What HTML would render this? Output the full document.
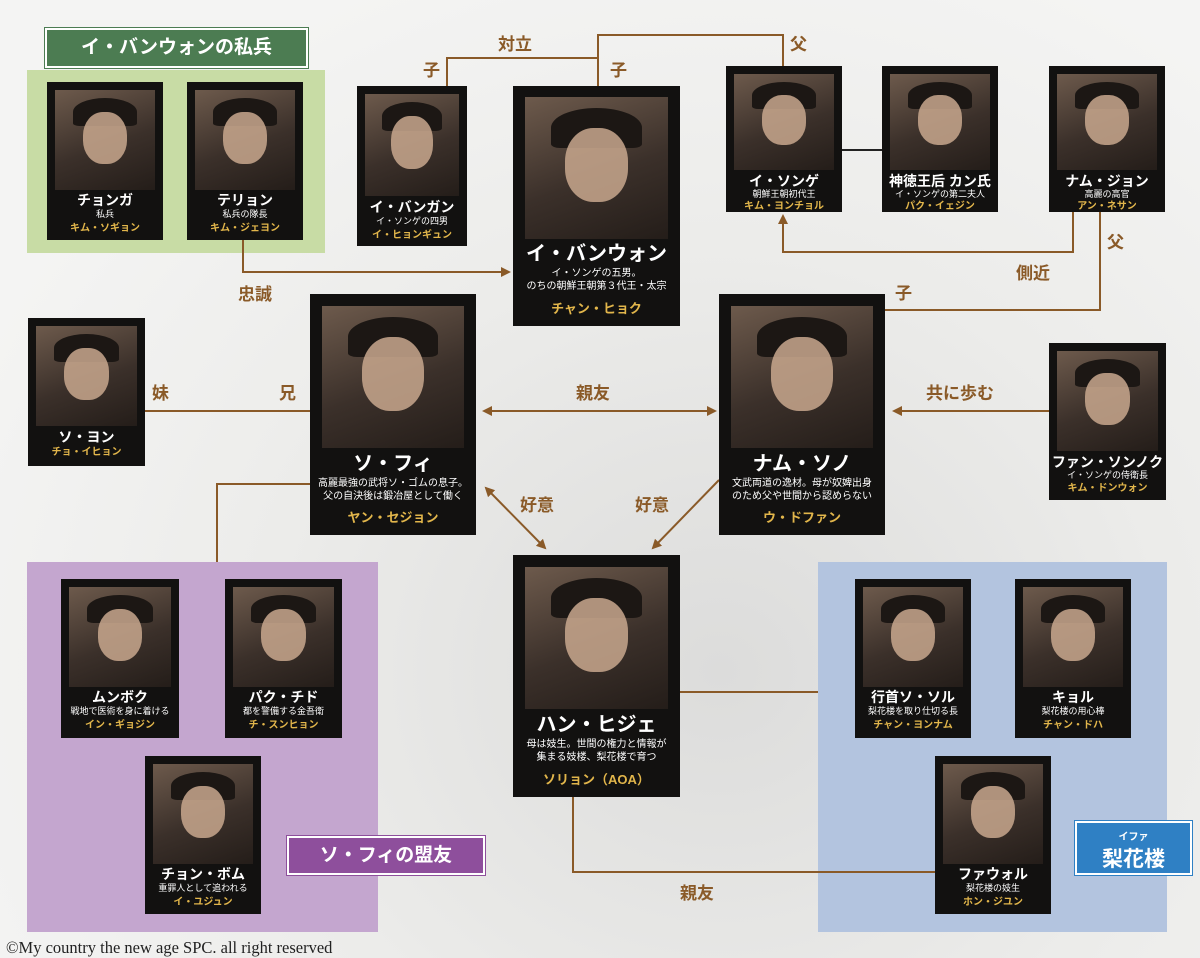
<!DOCTYPE html>
<html><head><meta charset="utf-8">
<style>
*{margin:0;padding:0;box-sizing:border-box}
body{width:1200px;height:958px;position:relative;overflow:hidden;background:#efefed;font-family:"Liberation Sans","Noto Sans CJK JP",sans-serif}
.bg{position:absolute;left:0;top:0;width:1200px;height:958px;background:radial-gradient(ellipse at 60% 70%,#dcdcdb 0%,#ececea 45%,#f4f4f3 80%)}
.panel{position:absolute}
.card{position:absolute;background:#121110;color:#fff;text-align:center}
.card .ph{position:absolute;background:linear-gradient(160deg,#6d5a4c 0%,#3b302a 55%,#241d19 100%)}
.card .ph i{position:absolute;left:28%;top:22%;width:44%;height:52%;border-radius:45%;background:#c9a88e;opacity:.85}
.card .ph b{position:absolute;left:18%;top:8%;width:64%;height:28%;border-radius:50% 50% 10% 10%;background:#1c1714}
.card .n{position:absolute;left:0;right:0;font-weight:bold;line-height:1}
.card .d{position:absolute;left:0;right:0;line-height:1.3}
.card .a{position:absolute;left:0;right:0;color:#e2b64b;font-weight:bold;line-height:1}
.lbl{position:absolute;color:#8a5a28;font-weight:bold;font-size:17px;line-height:1}
svg{position:absolute;left:0;top:0}
.tag{position:absolute;color:#fff;font-weight:bold;text-align:center}
</style></head><body>
<div class="bg"></div>
<div class="panel" style="left:27px;top:70px;width:298px;height:183px;background:#c8dca5"></div>
<div class="panel" style="left:27px;top:562px;width:351px;height:370px;background:#c4a6cf"></div>
<div class="panel" style="left:818px;top:562px;width:349px;height:370px;background:#b3c4df"></div>

<svg width="1200" height="958">
<defs><marker id="ar" markerWidth="10" markerHeight="10" refX="8" refY="5" orient="auto" markerUnits="userSpaceOnUse"><path d="M0,0 L10,5 L0,10 z" fill="#8a5a28"/></marker>
<marker id="as" markerWidth="10" markerHeight="10" refX="2" refY="5" orient="auto" markerUnits="userSpaceOnUse"><path d="M10,0 L0,5 L10,10 z" fill="#8a5a28"/></marker></defs>
<g stroke="#8a5a28" stroke-width="2" fill="none">
<polyline points="447,86 447,58 598,58"/>
<polyline points="598,86 598,35 783,35 783,66"/>
<polyline points="1073,212 1073,252 783,252 783,216" marker-end="url(#ar)"/>
<polyline points="1100,212 1100,310 885,310"/>
<polyline points="243,240 243,272 509,272" marker-end="url(#ar)"/>
<line x1="145" y1="411" x2="310" y2="411"/>
<line x1="484" y1="411" x2="715" y2="411" marker-start="url(#as)" marker-end="url(#ar)"/>
<line x1="1049" y1="411" x2="894" y2="411" marker-end="url(#ar)"/>
<line x1="486" y1="488" x2="545" y2="548" marker-start="url(#as)" marker-end="url(#ar)"/>
<line x1="719" y1="480" x2="653" y2="548" marker-end="url(#ar)"/>
<polyline points="310,484 217,484 217,562"/>
<line x1="680" y1="692" x2="818" y2="692"/>
<polyline points="573,797 573,872 935,872"/>
</g>
<line x1="842" y1="150" x2="882" y2="150" stroke="#222" stroke-width="2"/>
</svg>

<div class="tag" style="left:45px;top:28px;width:263px;height:40px;background:#4c7c52;border:2px solid #fff;outline:1px solid #4c7c52;font-size:19px;line-height:36px">イ・バンウォンの私兵</div>
<div class="tag" style="left:287px;top:836px;width:198px;height:39px;background:#8e4f9c;border:2px solid #fff;outline:1px solid #8e4f9c;font-size:19px;line-height:35px">ソ・フィの盟友</div>
<div class="tag" style="left:1075px;top:821px;width:117px;height:54px;background:#2f80c4;border:2px solid #fff;outline:1px solid #2f80c4"><div style="font-size:10px;margin-top:5px">イファ</div><div style="font-size:21px">梨花楼</div></div>

<div class="lbl" style="left:423px;top:62px">子</div>
<div class="lbl" style="left:498px;top:36px">対立</div>
<div class="lbl" style="left:610px;top:62px">子</div>
<div class="lbl" style="left:790px;top:36px">父</div>
<div class="lbl" style="left:1016px;top:265px">側近</div>
<div class="lbl" style="left:1107px;top:234px">父</div>
<div class="lbl" style="left:895px;top:285px">子</div>
<div class="lbl" style="left:238px;top:286px">忠誠</div>
<div class="lbl" style="left:152px;top:385px">妹</div>
<div class="lbl" style="left:279px;top:385px">兄</div>
<div class="lbl" style="left:576px;top:385px">親友</div>
<div class="lbl" style="left:926px;top:385px">共に歩む</div>
<div class="lbl" style="left:520px;top:497px">好意</div>
<div class="lbl" style="left:635px;top:497px">好意</div>
<div class="lbl" style="left:680px;top:885px">親友</div>

<div class="card" style="left:47px;top:82px;width:116px;height:158px"><div class="ph" style="left:8px;top:8px;width:100px;height:100px"><b></b><i></i></div><div class="n" style="top:111px;font-size:14px">チョンガ</div><div class="d" style="top:127px;font-size:9px">私兵</div><div class="a" style="top:142px;font-size:10px">キム・ソギョン</div></div>
<div class="card" style="left:187px;top:82px;width:116px;height:158px"><div class="ph" style="left:8px;top:8px;width:100px;height:100px"><b></b><i></i></div><div class="n" style="top:111px;font-size:14px">テリョン</div><div class="d" style="top:127px;font-size:9px">私兵の隊長</div><div class="a" style="top:142px;font-size:10px">キム・ジェヨン</div></div>
<div class="card" style="left:357px;top:86px;width:110px;height:160px"><div class="ph" style="left:8px;top:8px;width:94px;height:102px"><b></b><i></i></div><div class="n" style="top:114px;font-size:14px">イ・バンガン</div><div class="d" style="top:130px;font-size:9px">イ・ソンゲの四男</div><div class="a" style="top:145px;font-size:10px">イ・ヒョンギュン</div></div>
<div class="card" style="left:726px;top:66px;width:116px;height:146px"><div class="ph" style="left:8px;top:8px;width:100px;height:96px"><b></b><i></i></div><div class="n" style="top:108px;font-size:14px">イ・ソンゲ</div><div class="d" style="top:123px;font-size:9px">朝鮮王朝初代王</div><div class="a" style="top:136px;font-size:10px">キム・ヨンチョル</div></div>
<div class="card" style="left:882px;top:66px;width:116px;height:146px"><div class="ph" style="left:8px;top:8px;width:100px;height:96px"><b></b><i></i></div><div class="n" style="top:108px;font-size:14px">神徳王后 カン氏</div><div class="d" style="top:123px;font-size:9px">イ・ソンゲの第二夫人</div><div class="a" style="top:136px;font-size:10px">パク・イェジン</div></div>
<div class="card" style="left:1049px;top:66px;width:116px;height:146px"><div class="ph" style="left:8px;top:8px;width:100px;height:96px"><b></b><i></i></div><div class="n" style="top:108px;font-size:14px">ナム・ジョン</div><div class="d" style="top:123px;font-size:9px">高麗の高官</div><div class="a" style="top:136px;font-size:10px">アン・ネサン</div></div>
<div class="card" style="left:28px;top:318px;width:117px;height:148px"><div class="ph" style="left:8px;top:8px;width:101px;height:100px"><b></b><i></i></div><div class="n" style="top:112px;font-size:14px">ソ・ヨン</div><div class="a" style="top:130px;font-size:10px">チョ・イヒョン</div></div>
<div class="card" style="left:1049px;top:343px;width:117px;height:157px"><div class="ph" style="left:8px;top:8px;width:101px;height:100px"><b></b><i></i></div><div class="n" style="top:112px;font-size:14px">ファン・ソンノク</div><div class="d" style="top:127px;font-size:9px">イ・ソンゲの侍衛長</div><div class="a" style="top:141px;font-size:10px">キム・ドンウォン</div></div>
<div class="card" style="left:61px;top:579px;width:118px;height:159px"><div class="ph" style="left:8px;top:8px;width:102px;height:100px"><b></b><i></i></div><div class="n" style="top:111px;font-size:14px">ムンボク</div><div class="d" style="top:127px;font-size:9px">戦地で医術を身に着ける</div><div class="a" style="top:142px;font-size:10px">イン・ギョジン</div></div>
<div class="card" style="left:225px;top:579px;width:117px;height:159px"><div class="ph" style="left:8px;top:8px;width:101px;height:100px"><b></b><i></i></div><div class="n" style="top:111px;font-size:14px">パク・チド</div><div class="d" style="top:127px;font-size:9px">都を警備する金吾衛</div><div class="a" style="top:142px;font-size:10px">チ・スンヒョン</div></div>
<div class="card" style="left:145px;top:756px;width:116px;height:158px"><div class="ph" style="left:8px;top:8px;width:100px;height:100px"><b></b><i></i></div><div class="n" style="top:111px;font-size:14px">チョン・ボム</div><div class="d" style="top:127px;font-size:9px">重罪人として追われる</div><div class="a" style="top:142px;font-size:10px">イ・ユジュン</div></div>
<div class="card" style="left:855px;top:579px;width:116px;height:159px"><div class="ph" style="left:8px;top:8px;width:100px;height:100px"><b></b><i></i></div><div class="n" style="top:111px;font-size:14px">行首ソ・ソル</div><div class="d" style="top:127px;font-size:9px">梨花楼を取り仕切る長</div><div class="a" style="top:142px;font-size:10px">チャン・ヨンナム</div></div>
<div class="card" style="left:1015px;top:579px;width:116px;height:159px"><div class="ph" style="left:8px;top:8px;width:100px;height:100px"><b></b><i></i></div><div class="n" style="top:111px;font-size:14px">キョル</div><div class="d" style="top:127px;font-size:9px">梨花楼の用心棒</div><div class="a" style="top:142px;font-size:10px">チャン・ドハ</div></div>
<div class="card" style="left:935px;top:756px;width:116px;height:158px"><div class="ph" style="left:8px;top:8px;width:100px;height:100px"><b></b><i></i></div><div class="n" style="top:111px;font-size:14px">ファウォル</div><div class="d" style="top:127px;font-size:9px">梨花楼の妓生</div><div class="a" style="top:142px;font-size:10px">ホン・ジユン</div></div>

<div class="card" style="left:513px;top:86px;width:167px;height:240px"><div class="ph" style="left:12px;top:11px;width:143px;height:142px"><b></b><i></i></div><div class="n" style="top:158px;font-size:20px">イ・バンウォン</div><div class="d" style="top:181px;font-size:10px">イ・ソンゲの五男。<br>のちの朝鮮王朝第３代王・太宗</div><div class="a" style="top:216px;font-size:13px">チャン・ヒョク</div></div>
<div class="card" style="left:310px;top:294px;width:166px;height:241px"><div class="ph" style="left:12px;top:12px;width:142px;height:142px"><b></b><i></i></div><div class="n" style="top:160px;font-size:20px">ソ・フィ</div><div class="d" style="top:183px;font-size:10px">高麗最強の武将ソ・ゴムの息子。<br>父の自決後は鍛冶屋として働く</div><div class="a" style="top:217px;font-size:13px">ヤン・セジョン</div></div>
<div class="card" style="left:719px;top:294px;width:166px;height:241px"><div class="ph" style="left:12px;top:12px;width:142px;height:142px"><b></b><i></i></div><div class="n" style="top:160px;font-size:20px">ナム・ソノ</div><div class="d" style="top:183px;font-size:10px">文武両道の逸材。母が奴婢出身<br>のため父や世間から認めらない</div><div class="a" style="top:217px;font-size:13px">ウ・ドファン</div></div>
<div class="card" style="left:513px;top:555px;width:167px;height:242px"><div class="ph" style="left:12px;top:12px;width:143px;height:142px"><b></b><i></i></div><div class="n" style="top:160px;font-size:20px">ハン・ヒジェ</div><div class="d" style="top:183px;font-size:10px">母は妓生。世間の権力と情報が<br>集まる妓楼、梨花楼で育つ</div><div class="a" style="top:218px;font-size:13px">ソリョン（AOA）</div></div>

<div style="position:absolute;left:6px;top:938px;font-family:'Liberation Serif',serif;font-size:16.5px;color:#222">©My country the new age SPC. all right reserved</div>
</body></html>
